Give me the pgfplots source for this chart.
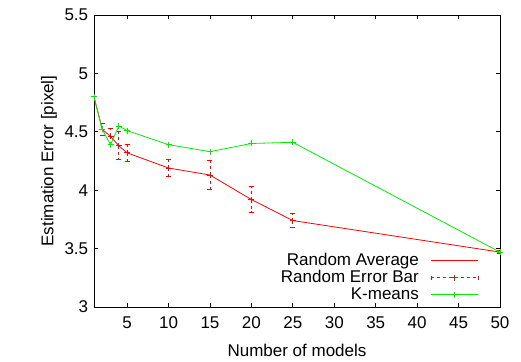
\documentclass[border=0pt]{standalone}
\usepackage{fontspec}
\setmainfont{Liberation Sans}
\usepackage{pgfplots}
\usepackage{pgfplotstable}
\pgfplotsset{compat=1.18}
\definecolor{gpred}{RGB}{255,0,0}
\definecolor{gpgreen}{RGB}{0,235,0}
\newcommand{\lentry}[1]{\raisebox{0pt}[12.5bp][3.5bp]{#1}}
\pgfplotstableread{
x y e
1 4.80 0
2 4.52 0.05
3 4.46 0.065
4 4.38 0.12
5 4.32 0.07
10 4.19 0.075
15 4.13 0.125
20 3.92 0.11
25 3.74 0.06
50 3.47 0.015
}\randomdata
\pgfplotstableread{
x y
1 4.80
2 4.52
3 4.39
4 4.55
5 4.51
10 4.39
15 4.33
20 4.40
25 4.41
50 3.47
}\kmeansdata
\begin{document}
\fontsize{17bp}{20bp}\selectfont
\begin{tikzpicture}
\useasboundingbox (-94bp,-55bp) rectangle (427bp,307bp);
\begin{axis}[
  at={(0,0)}, anchor=south west,
  scale only axis, width=406bp, height=292bp,
  xmin=1, xmax=50, ymin=3, ymax=5.5,
  xtick={5,10,...,50}, ytick={3,3.5,4,4.5,5,5.5},
  tick align=inside, major tick length=4bp,
  axis line style={line width=0.8bp},
  every tick/.style={black, line width=0.8bp},
  /pgf/number format/assume math mode=true,
  /pgf/number format/fixed,
  tick label style={font=\fontsize{17bp}{20bp}\selectfont},
  label style={font=\fontsize{17bp}{20bp}\selectfont},
  xticklabel style={yshift=-4bp},
  xlabel={Number of models},
  ylabel={Estimation Error [pixel]},
  xlabel style={yshift=-4bp},
  ylabel style={yshift=-4bp},
  legend plot pos=right,
  legend cell align=right,
  legend style={draw=none, fill=none, at={(0.948,0.012)}, anchor=south east,
    font=\fontsize{17bp}{20bp}\selectfont, row sep=0pt, inner sep=0pt,
    nodes={inner sep=1bp}},
]
\addplot[gpred, line width=0.8bp, mark=none,
  legend image code/.code={\path (0bp,0bp);
    \draw[gpred, line width=0.8bp] (11bp,0bp) -- (58bp,0bp);}]
  table[x=x, y=y] {\randomdata};
\addlegendentry{\lentry{Random Average}}
\addplot[gpred, only marks, mark=+, mark size=3bp, mark options={solid, line width=0.8bp},
  legend image code/.code={\path (0bp,0bp);
    \draw[gpred, dashed, line width=0.8bp] (11bp,0bp) -- (58bp,0bp);
    \draw[gpred, solid, line width=0.8bp] (11bp,-2bp) -- (11bp,2bp) (58bp,-2bp) -- (58bp,2bp)
      (34.5bp,-3bp) -- (34.5bp,3bp) (31.5bp,0bp) -- (37.5bp,0bp);},
  error bars/.cd, y dir=both, y explicit,
  error bar style={dashed, gpred, line width=0.8bp},
  error mark options={rotate=90, gpred, mark size=2.5bp, solid, line width=0.8bp}]
  table[x=x, y=y, y error=e] {\randomdata};
\addlegendentry{\lentry{Random Error Bar}}
\addplot[gpgreen, line width=0.8bp, mark=+, mark size=3bp,
  legend image code/.code={\path (0bp,0bp);
    \draw[gpgreen, line width=0.8bp] (11bp,0bp) -- (58bp,0bp);
    \draw[gpgreen, line width=0.8bp] (34.5bp,-3bp) -- (34.5bp,3bp) (31.5bp,0bp) -- (37.5bp,0bp);}]
  table[x=x, y=y] {\kmeansdata};
\addlegendentry{\lentry{K-means}}
\end{axis}
\end{tikzpicture}
\end{document}
